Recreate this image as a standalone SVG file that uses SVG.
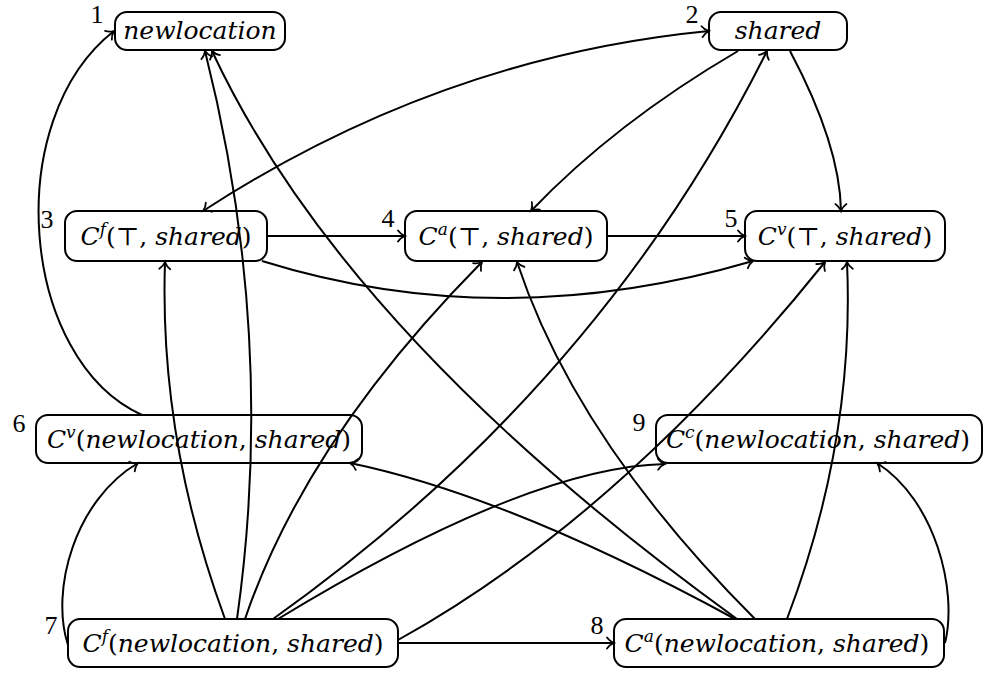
<svg xmlns="http://www.w3.org/2000/svg" width="988" height="675" viewBox="0 0 988 675">
<style>
.box{fill:none;stroke:#000;stroke-width:2}
.t{font-family:"DejaVu Serif","Liberation Serif",serif;font-size:25px;fill:#000}
.i{font-style:italic}
.s{font-style:italic;font-size:17px}
.n{font-family:"Liberation Serif","DejaVu Serif",serif;font-size:26px;fill:#000;text-anchor:middle}
.e{fill:none;stroke:#000;stroke-width:2}
</style>
<defs>
<marker id="arr" viewBox="-10 -8 12 16" refX="0" refY="0" markerWidth="12" markerHeight="16" markerUnits="userSpaceOnUse" orient="auto-start-reverse" overflow="visible">
<path d="M-7,-5.5 C-5,-2.5 -2,-0.8 0,0 C-2,0.8 -5,2.5 -7,5.5" fill="none" stroke="#000" stroke-width="1.8" stroke-linecap="round"/>
</marker>
</defs>
<rect width="988" height="675" fill="#fff"/>
<g id="n1"><rect class="box" x="115" y="12" width="170" height="38" rx="12"/><text class="t i" x="200" y="39" text-anchor="middle">newlocation</text><text class="n" x="97" y="23">1</text></g>
<g id="n2"><rect class="box" x="709" y="12" width="138" height="38" rx="12"/><text class="t i" x="778" y="39" text-anchor="middle">shared</text><text class="n" x="692" y="23">2</text></g>
<g id="n3"><rect class="box" x="65" y="211" width="202" height="50" rx="12"/><text class="t" x="166" y="245" text-anchor="middle"><tspan class="i">C</tspan><tspan class="s" dy="-10">f</tspan><tspan dy="10">(⊤, </tspan><tspan class="i">shared</tspan>)</text><text class="n" x="47" y="228">3</text></g>
<g id="n4"><rect class="box" x="405" y="211" width="202" height="50" rx="12"/><text class="t" x="506" y="245" text-anchor="middle"><tspan class="i">C</tspan><tspan class="s" dy="-10">a</tspan><tspan dy="10">(⊤, </tspan><tspan class="i">shared</tspan>)</text><text class="n" x="388" y="227">4</text></g>
<g id="n5"><rect class="box" x="745" y="211" width="200" height="50" rx="12"/><text class="t" x="845" y="245" text-anchor="middle"><tspan class="i">C</tspan><tspan class="s" dy="-10">v</tspan><tspan dy="10">(⊤, </tspan><tspan class="i">shared</tspan>)</text><text class="n" x="731" y="227">5</text></g>
<g id="n6"><rect class="box" x="36" y="415" width="326" height="48" rx="12"/><text class="t" x="199" y="448" text-anchor="middle"><tspan class="i">C</tspan><tspan class="s" dy="-10">v</tspan><tspan dy="10">(</tspan><tspan class="i">newlocation</tspan>, <tspan class="i">shared</tspan>)</text><text class="n" x="19" y="432">6</text></g>
<g id="n9"><rect class="box" x="656" y="415" width="326" height="48" rx="12"/><text class="t" x="818" y="448" text-anchor="middle"><tspan class="i">C</tspan><tspan class="s" dy="-10">c</tspan><tspan dy="10">(</tspan><tspan class="i">newlocation</tspan>, <tspan class="i">shared</tspan>)</text><text class="n" x="639" y="431">9</text></g>
<g id="n7"><rect class="box" x="68" y="619" width="330" height="48" rx="12"/><text class="t" x="233" y="652" text-anchor="middle"><tspan class="i">C</tspan><tspan class="s" dy="-10">f</tspan><tspan dy="10">(</tspan><tspan class="i">newlocation</tspan>, <tspan class="i">shared</tspan>)</text><text class="n" x="51" y="634">7</text></g>
<g id="n8"><rect class="box" x="614" y="619" width="330" height="48" rx="12"/><text class="t" x="777" y="652" text-anchor="middle"><tspan class="i">C</tspan><tspan class="s" dy="-10">a</tspan><tspan dy="10">(</tspan><tspan class="i">newlocation</tspan>, <tspan class="i">shared</tspan>)</text><text class="n" x="597" y="634">8</text></g>
<g id="edges">
<path class="e" d="M142,415 C20,360 0,120 114,31" marker-end="url(#arr)"/>
<path class="e" d="M203,211 Q440,57 709,31" marker-start="url(#arr)" marker-end="url(#arr)"/>
<path class="e" d="M738,51 Q615,123 531,211" marker-end="url(#arr)"/>
<path class="e" d="M790,51 Q840,145 841,211" marker-end="url(#arr)"/>
<path class="e" d="M267,236 L405,236" marker-end="url(#arr)"/>
<path class="e" d="M607,236 L745,236" marker-end="url(#arr)"/>
<path class="e" d="M262,261 Q500,335 753,261" marker-end="url(#arr)"/>
<path class="e" d="M225,619 Q159,439 165,262" marker-end="url(#arr)"/>
<path class="e" d="M237,619 Q277,336 205,51" marker-end="url(#arr)"/>
<path class="e" d="M245,619 Q306,440 482,262" marker-end="url(#arr)"/>
<path class="e" d="M273,619 Q599,387 767,51" marker-end="url(#arr)"/>
<path class="e" d="M278,619 Q528,467 665,464" marker-end="url(#arr)"/>
<path class="e" d="M398,640 Q621,516 825,262" marker-end="url(#arr)"/>
<path class="e" d="M398,643 L614,643" marker-end="url(#arr)"/>
<path class="e" d="M68,645 C50,590 75,500 138,463" marker-end="url(#arr)"/>
<path class="e" d="M737,619 Q345,336 212,51" marker-end="url(#arr)"/>
<path class="e" d="M735,619 Q509,496 350,463" marker-end="url(#arr)"/>
<path class="e" d="M755,619 Q576,440 517,262" marker-end="url(#arr)"/>
<path class="e" d="M787,619 Q855,440 847,262" marker-end="url(#arr)"/>
<path class="e" d="M945,643 C958,590 935,500 877,463" marker-end="url(#arr)"/>
</g>
</svg>
